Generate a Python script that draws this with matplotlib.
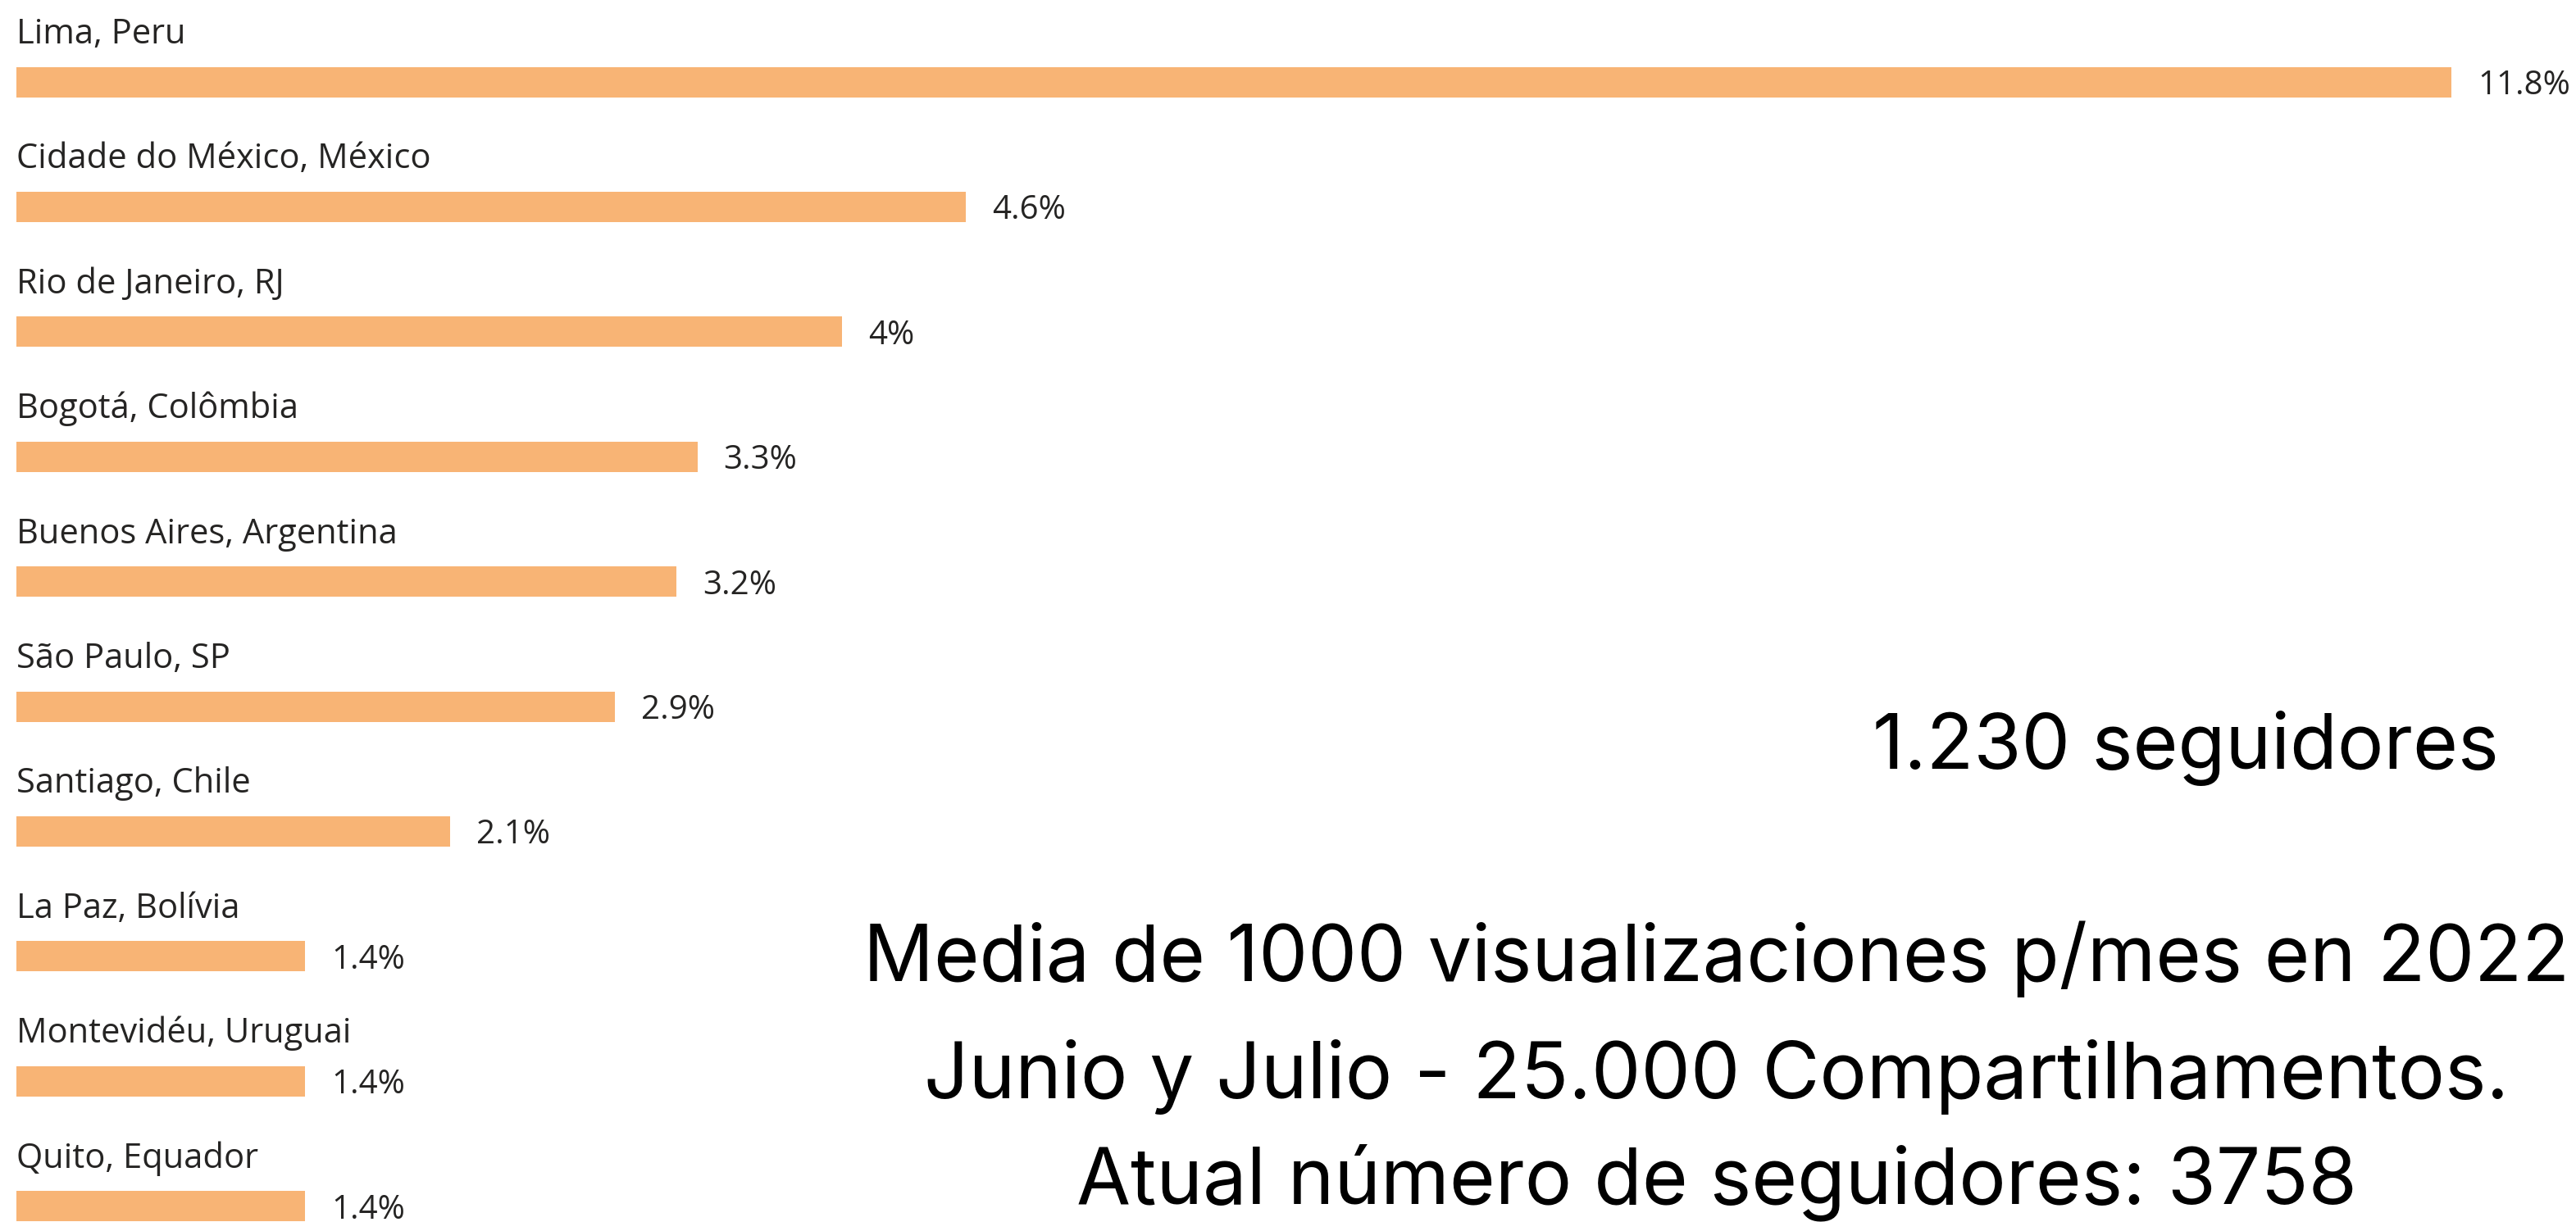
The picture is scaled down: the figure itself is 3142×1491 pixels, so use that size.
import matplotlib
matplotlib.use('Agg')
import matplotlib.pyplot as plt

# cities and share of audience (%)
cities = ['Lima, Peru', 'Cidade do México, México', 'Rio de Janeiro, RJ',
          'Bogotá, Colômbia', 'Buenos Aires, Argentina', 'São Paulo, SP',
          'Santiago, Chile', 'La Paz, Bolívia', 'Montevidéu, Uruguai',
          'Quito, Equador']
shares = [11.8, 4.6, 4.0, 3.3, 3.2, 2.9, 2.1, 1.4, 1.4, 1.4]
share_labels = ['11.8%', '4.6%', '4%', '3.3%', '3.2%', '2.9%', '2.1%',
                '1.4%', '1.4%', '1.4%']

notes = ['1.230 seguidores',
         'Media de 1000 visualizaciones p/mes en 2022',
         'Junio y Julio - 25.000 Compartilhamentos.',
         'Atual número de seguidores: 3758']

W, H = 3142, 1491
fig = plt.figure(figsize=(W / 100, H / 100), dpi=100)
ax = fig.add_axes([0, 0, 1, 1])

px_x = 251.7   # pixels per percent
px_y = 152.4   # pixels per row
ax.set_xlim(-20 / px_x, (W - 20) / px_x)
ax.set_ylim((H - 100) / px_y, -100 / px_y)
ax.axis('off')

rows = range(len(cities))
ax.barh(rows, shares, height=37 / px_y, color='#F8B475', left=0)

label_font = ['Open Sans', 'DejaVu Sans']
for i, (c, v, lab) in enumerate(zip(cities, shares, share_labels)):
    ax.text(0, i - 47 / px_y, c, fontsize=30, family=label_font,
            color='#252423', va='baseline', ha='left')
    ax.text(v + 32 / px_x, i + 15 / px_y, lab, fontsize=29, family=label_font,
            color='#252423', va='baseline', ha='left')

big_font = ['Inter', 'DejaVu Sans']
fig.text(2666 / W, 1 - 938 / H, notes[0], fontsize=68, family=big_font,
         ha='center', va='baseline', color='black')
for txt, base, fs in zip(notes[1:], [1197, 1340, 1468], [68.5, 69, 69]):
    fig.text(2094 / W, 1 - base / H, txt, fontsize=fs, family=big_font,
             ha='center', va='baseline', color='black')

fig.savefig('out.png', dpi=100, facecolor='white')
